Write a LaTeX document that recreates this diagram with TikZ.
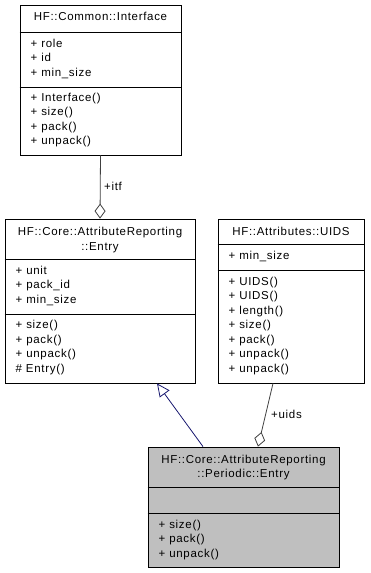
\documentclass[tikz,border=0pt]{standalone}
\usepackage{fontspec}
\setmainfont{Liberation Sans}[LetterSpace=6]
\usetikzlibrary{arrows.meta}
\definecolor{edgegray}{HTML}{404040}
\definecolor{inhblue}{HTML}{191970}
\definecolor{clsgray}{HTML}{BFBFBF}
\tikzset{
  cls/.style={draw=black,line width=.8pt,inner sep=0pt},
  ttl/.style={anchor=base,inner sep=0pt},
  mem/.style={anchor=base west,inner sep=0pt},
  agg/.style={draw=edgegray,line width=.8pt,-{Diamond[open,fill=white,length=15pt,width=11pt]}},
  inh/.style={draw=inhblue,line width=.8pt,-{Triangle[open,fill=white,length=13pt,width=12pt]}},
}
\newcommand\mlist[3]{\foreach \m [count=\i from 0] in {#3} \node[mem] at (#1,#2+14.5*\i) {\m};}

\begin{document}
\begin{tikzpicture}[x=1pt,y=-1pt,font=\fontsize{11.5}{14.5}\selectfont]
\useasboundingbox (0,0) rectangle (370,573);
% classes
\node[cls,minimum width=161pt,minimum height=150pt](iface)at(100.5,80){};
\node[cls,minimum width=190pt,minimum height=164pt](entry)at(100,301){};
\node[cls,minimum width=146pt,minimum height=164pt](uids)at(291,301){};
\node[cls,fill=clsgray,minimum width=191pt,minimum height=120pt](periodic)at(243.5,507){};
% HF::Common::Interface
\draw(iface.west|-0,32)--(iface.east|-0,32)(iface.west|-0,87)--(iface.east|-0,87);
\node[ttl](iface-t)at(100.5,20.7){HF::Common::Interface};
\mlist{30.5}{47}{+ role,+ id,+ min\_size}
\mlist{30.5}{101}{+ Interface(),+ size(),+ pack(),+ unpack()}
% HF::Core::AttributeReporting::Entry
\draw(entry.west|-0,259)--(entry.east|-0,259)(entry.west|-0,314)--(entry.east|-0,314);
\node[ttl](entry-t)at(100,235.5){HF::Core::AttributeReporting};\node[ttl](entry-t2)at(100,250){::Entry};
\mlist{15.5}{274}{+ unit,+ pack\_id,+ min\_size}
\mlist{15.5}{328.5}{+ size(),+ pack(),+ unpack(),\# Entry()}
% HF::Attributes::UIDS
\draw(uids.west|-0,244)--(uids.east|-0,244)(uids.west|-0,270)--(uids.east|-0,270);
\node[ttl](uids-t)at(291,235){HF::Attributes::UIDS};
\mlist{228.5}{259.5}{+ min\_size}
\mlist{228.5}{285}{+ UIDS(),+ UIDS(),+ length(),+ size(),+ pack(),+ unpack(),+ unpack()}
% HF::Core::AttributeReporting::Periodic::Entry
\draw(periodic.west|-0,487)--(periodic.east|-0,487)(periodic.west|-0,513)--(periodic.east|-0,513);
\node[ttl](per-t)at(243.5,463){HF::Core::AttributeReporting};\node[ttl](per-t2)at(243.5,477.5){::Periodic::Entry};
\mlist{158.5}{528}{+ size(),+ pack(),+ unpack()}
% relations
\draw[agg](iface.south)--(entry.north);\node[mem](itf)at(104,190){+itf};
\draw[inh]([xshift=-40.5pt]periodic.north)--([xshift=57pt]entry.south);
\draw[agg]([xshift=-18pt]uids.south)--([xshift=14.5pt]periodic.north);\node[mem](uidslbl)at(271,418){+uids};
\end{tikzpicture}
\end{document}
